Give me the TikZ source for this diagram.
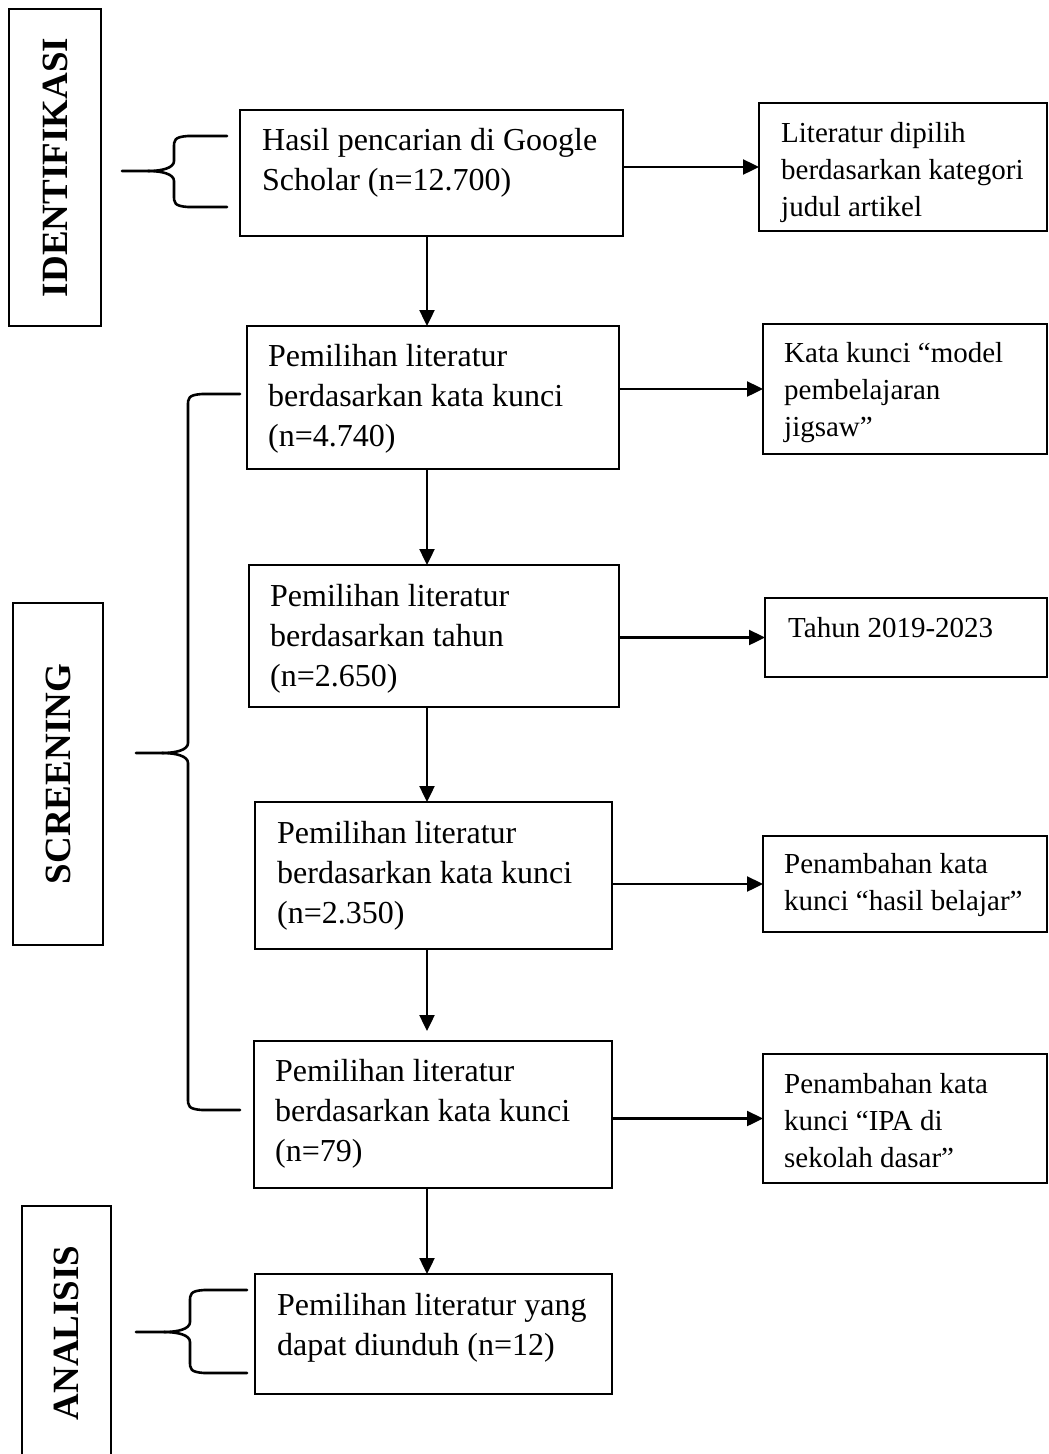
\documentclass[tikz,border=0pt]{standalone}
\usepackage{fontspec}
\setmainfont{Liberation Serif}
\usetikzlibrary{arrows.meta,calc}
\begin{document}
\begin{tikzpicture}[x=1pt,y=-1pt,
  box/.style={draw,line width=2.4pt,inner sep=0pt,outer sep=0pt},
  ltxt/.style={anchor=base west,inner sep=0pt,align=left,font=\fontsize{32}{40}\selectfont},
  rtxt/.style={anchor=base west,inner sep=0pt,align=left,font=\fontsize{29}{37}\selectfont},
  stage/.style={box,rotate=90,font=\fontsize{37}{40}\selectfont\bfseries},
  arr/.style={line width=2.4pt,-{Triangle[length=16pt,width=15pt]}},
  brc/.style={line width=2.6pt,line cap=round,line join=round}]
\useasboundingbox (0,0) rectangle (1049,1454);
% stage labels
\node[stage,minimum width=317,minimum height=92] (s1) at (55,167.5) {IDENTIFIKASI};
\node[stage,minimum width=342,minimum height=90] (s2) at (58,774) {SCREENING};
\node[stage,minimum width=254,minimum height=89] (s3) at (66.5,1333) {ANALISIS};
% main boxes
\node[box,minimum width=383,minimum height=126] (b1) at (431.5,173) {};
\node[box,minimum width=372,minimum height=143] (b2) at (433,397.5) {};
\node[box,minimum width=370,minimum height=142] (b3) at (434,636) {};
\node[box,minimum width=357,minimum height=147] (b4) at (433.5,875.5) {};
\node[box,minimum width=358,minimum height=147] (b5) at (433,1114.5) {};
\node[box,minimum width=357,minimum height=120] (b6) at (433.5,1334) {};
% text nodes: anchor is the baseline of the last line
\node[ltxt] (t1) at (262,190) {Hasil pencarian di Google\\Scholar (n=12.700)};
\node[ltxt] (t2) at (268,446) {Pemilihan literatur\\berdasarkan kata kunci\\(n=4.740)};
\node[ltxt] (t3) at (270,686) {Pemilihan literatur\\berdasarkan tahun\\(n=2.650)};
\node[ltxt] (t4) at (277,923) {Pemilihan literatur\\berdasarkan kata kunci\\(n=2.350)};
\node[ltxt] (t5) at (275,1161) {Pemilihan literatur\\berdasarkan kata kunci\\(n=79)};
\node[ltxt] (t6) at (277,1355) {Pemilihan literatur yang\\dapat diunduh (n=12)};
% right boxes
\node[box,minimum width=288,minimum height=128] (r1) at (903,167) {};
\node[box,minimum width=284,minimum height=130] (r2) at (905,389) {};
\node[box,minimum width=282,minimum height=79] (r3) at (906,637.5) {};
\node[box,minimum width=284,minimum height=96] (r4) at (905,884) {};
\node[box,minimum width=284,minimum height=129] (r5) at (905,1118.5) {};
\node[rtxt] (u1) at (781,216) {Literatur dipilih\\berdasarkan kategori\\judul artikel};
\node[rtxt] (u2) at (784,436) {Kata kunci “model\\pembelajaran\\jigsaw”};
\node[rtxt] (u3) at (788,637) {Tahun 2019-2023};
\node[rtxt] (u4) at (784,910) {Penambahan kata\\kunci “hasil belajar”};
\node[rtxt] (u5) at (784,1167) {Penambahan kata\\kunci “IPA di\\sekolah dasar”};
% horizontal arrows
\draw[arr] (b1.east |- r1.west) -- (r1.west);
\draw[arr] (b2.east |- r2.west) -- (r2.west);
\draw[arr] (b3.east |- r3.west) -- (r3.west);
\draw[arr] (b4.east |- r4.west) -- (r4.west);
\draw[arr] (b5.east |- r5.west) -- (r5.west);
% vertical arrows
\coordinate (ax) at (427,0);
\draw[arr] (b1.south -| ax) -- (b2.north -| ax);
\draw[arr] (b2.south -| ax) -- (b3.north -| ax);
\draw[arr] (b3.south -| ax) -- (b4.north -| ax);
\draw[arr,shorten >=10pt] (b4.south -| ax) -- (b5.north -| ax);
\draw[arr] (b5.south -| ax) -- (b6.north -| ax);
% braces
\newcommand\mybrace[6]{% xend ytop ybot xspine xtip ymid
  \draw[brc] (#1,#2) -- (#4+14,#2) .. controls (#4,#2+1) and (#4,#2+4) .. (#4,#2+12)
    -- (#4,#6-10) .. controls (#4,#6-3) and (#4-12,#6) .. (#4-26,#6) -- (#5,#6);
  \draw[brc] (#1,#3) -- (#4+14,#3) .. controls (#4,#3-1) and (#4,#3-4) .. (#4,#3-12)
    -- (#4,#6+10) .. controls (#4,#6+3) and (#4-12,#6) .. (#4-26,#6);}
\mybrace{227}{136}{207}{174}{122}{171}
\mybrace{240}{394}{1110}{188}{136}{753}
\mybrace{247}{1290}{1373}{190}{136}{1332}
\end{tikzpicture}
\end{document}
